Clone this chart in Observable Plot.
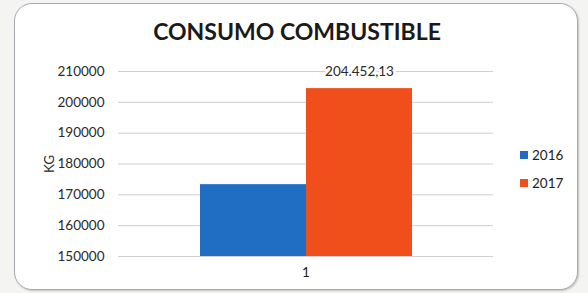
<!DOCTYPE html>
<html>
<head>
<meta charset="utf-8">
<script src="https://cdn.jsdelivr.net/npm/d3@7"></script>
<script src="https://cdn.jsdelivr.net/npm/@observablehq/plot@0.6"></script>
<style>
  html, body { margin: 0; padding: 0; background: #f4f4f2; }
  #wrap { position: relative; width: 588px; height: 293px; overflow: hidden; font-family: Lato, "Open Sans", sans-serif; }
  #frame { position: absolute; left: 14px; top: 3px; width: 562px; height: 285px; background: #fff;
           border: 1.5px solid #a9aab0; border-radius: 18px; box-shadow: 1px 1px 2px rgba(0,0,0,0.2); }
  #chart { position: absolute; left: 0; top: 0; }
  #title { position: absolute; left: 0; width: 594px; top: 17px; text-align: center; font-weight: bold;
           font-size: 23px; color: #1a1a1a; }
  .leg { position: absolute; left: 520px; font-size: 13.5px; color: #222; display: flex; align-items: center; }
  .leg i { display: inline-block; width: 8px; height: 8px; margin-right: 4px; }
</style>
</head>
<body>
<div id="wrap">
  <div id="frame"></div>
  <div id="chart"></div>
  <div id="title">CONSUMO COMBUSTIBLE</div>
  <div id="legend"></div>
</div>
<script>
const categories = ["1"];
const years = ["2016", "2017"];
const values2016 = [173300];
const values2017 = [204452.13];
const yTicks = [150000, 160000, 170000, 180000, 190000, 200000, 210000];
const colors = ["#1f6ec4", "#f04f1c"];

const data = [];
categories.forEach((c, i) => {
  data.push({cat: c, year: years[0], value: values2016[i]});
  data.push({cat: c, year: years[1], value: values2017[i]});
});

const esLocale = d3.formatLocale({decimal: ",", thousands: ".", grouping: [3], currency: ["", ""]});
const fmtVal = esLocale.format(",.2f");

const chart = Plot.plot({
  width: 588,
  height: 293,
  marginLeft: 118,
  marginRight: 95,
  marginTop: 71,
  marginBottom: 37,
  style: {fontFamily: "Lato, 'Open Sans', sans-serif", background: "transparent", color: "#333"},
  fx: {domain: categories, paddingInner: 0, paddingOuter: 0, label: null, axis: null},
  x: {domain: years, paddingInner: 0, paddingOuter: 0.76, axis: null},
  y: {domain: [150000, 210000]},
  color: {domain: years, range: colors},
  marks: [
    Plot.gridY(yTicks, {stroke: "#cfcfcf", strokeOpacity: 1}),
    Plot.axisY(yTicks, {tickSize: 0, tickPadding: 14, tickFormat: d3.format("d"), fontSize: 13.5, fill: "#2a2a2a",
      label: "KG", labelAnchor: "center", labelArrow: "none", labelOffset: 74}),
    Plot.axisFx({anchor: "bottom", tickSize: 0, tickPadding: 11, fontSize: 13.5, fill: "#222", label: null}),
    Plot.barY(data, {fx: "cat", x: "year", y: "value", fill: "year", clip: true}),
    Plot.text(data.filter(d => d.year === years[1]), {fx: "cat", x: "year", y: "value", text: d => fmtVal(d.value),
      dy: -17, fontSize: 13.5, fill: "#2a2a2a", stroke: "white", strokeWidth: 5})
  ]
});
document.getElementById("chart").appendChild(chart);

const legend = document.getElementById("legend");
years.forEach((y, i) => {
  const el = document.createElement("div");
  el.className = "leg";
  el.style.top = (147 + i * 28) + "px";
  el.innerHTML = `<i style="background:${colors[i]}"></i>${y}`;
  legend.appendChild(el);
});
</script>
</body>
</html>
